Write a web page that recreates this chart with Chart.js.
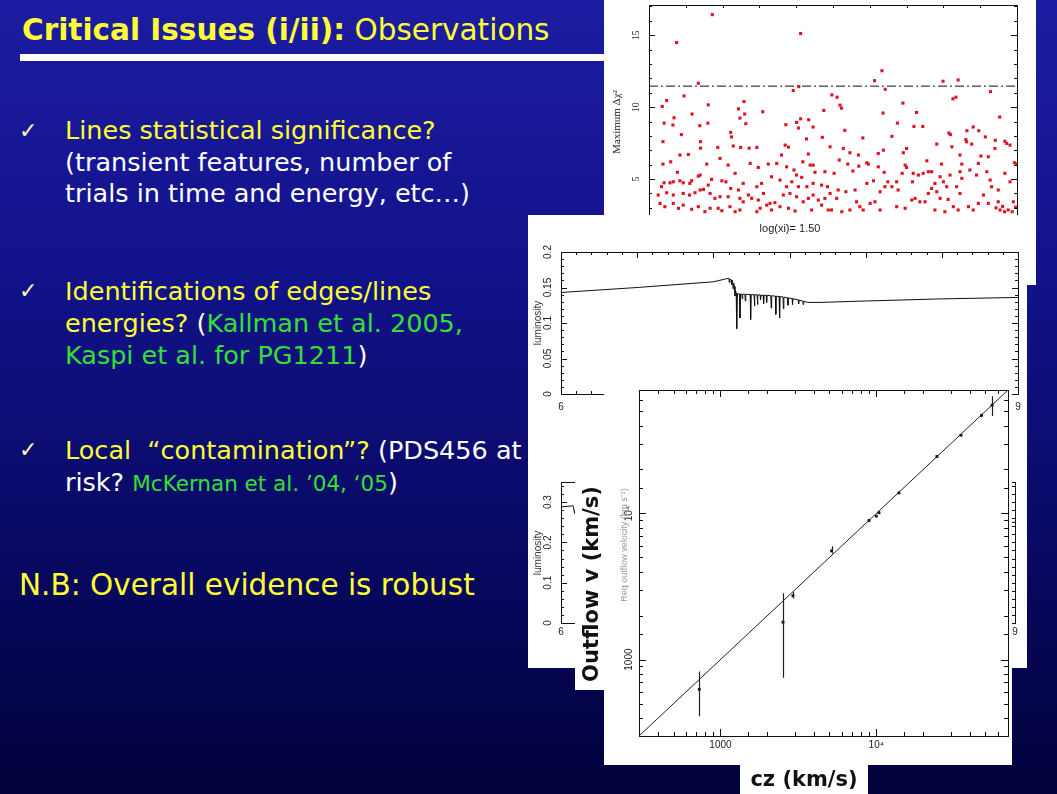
<!DOCTYPE html>
<html>
<head>
<meta charset="utf-8">
<script src="https://cdn.jsdelivr.net/npm/chart.js@4/dist/chart.umd.min.js"></script>
<style>
html, body { margin: 0; padding: 0; }
body {
  width: 1057px; height: 794px; overflow: hidden; position: relative;
  background: linear-gradient(to bottom, #1c1ca2 0%, #12128a 35%, #080862 70%, #02023c 100%);
  font-family: "DejaVu Sans", sans-serif;
}
.t { position: absolute; white-space: nowrap; }
.y { color: #ffff33; }
.w { color: #ffffff; }
.g { color: #33e033; }
.ck { position: absolute; left: 19px; color: #ffffbb; font-family: "DejaVu Sans"; font-size: 22px; }
.panel { position: absolute; background: #fff; }
.panel canvas { position: absolute; left: 0; }
.rot { position: absolute; white-space: nowrap; transform: translate(-50%, -50%) rotate(-90deg); }
.lbl { position: absolute; white-space: nowrap; transform: translate(-50%, -50%); }
</style>
</head>
<body>

<div class="t y" style="left:22px;top:13px;font-size:29.5px;line-height:34px;"><b>Critical Issues (i/ii):</b> Observations</div>
<div style="position:absolute;left:20px;top:54px;width:584px;height:7px;background:#fff;"></div>

<div class="ck" style="top:118px;">✓</div>
<div class="t" style="left:65px;top:115px;font-size:25.5px;line-height:31.5px;">
  <span class="y">Lines statistical significance?</span><br>
  <span class="w">(transient features, number of</span><br>
  <span class="w">trials in time and energy, etc…)</span>
</div>

<div class="ck" style="top:278px;">✓</div>
<div class="t" style="left:65px;top:275px;font-size:25.5px;line-height:32px;">
  <span class="y">Identifications of edges/lines</span><br>
  <span class="y">energies?</span> <span class="w">(</span><span class="g">Kallman et al. 2005,</span><br>
  <span class="g">Kaspi et al. for PG1211</span><span class="w">)</span>
</div>

<div class="ck" style="top:437px;">✓</div>
<div class="t" style="left:65px;top:434px;font-size:25.5px;line-height:32px;">
  <span class="y">Local&nbsp; “contamination”?</span> <span class="w">(PDS456 at</span><br>
  <span class="w">risk?</span> <span class="g" style="font-size:21.5px;">McKernan et al. ’04, ‘05</span><span class="w">)</span>
</div>

<div class="t y" style="left:19px;top:568px;font-size:29.5px;line-height:34px;">N.B: Overall evidence is robust</div>

<!-- panel A : scatter of trials -->
<div class="panel" style="left:604px;top:0;width:432px;height:285px;">
  <canvas id="scat" width="432" height="285"></canvas>
  <div class="rot" style="left:12px;top:122px;font:11px 'Liberation Serif';color:#222;">Maximum Δχ²</div>
</div>

<!-- panel B : model spectra -->
<div class="panel" style="left:528px;top:215px;width:499px;height:453px;">
  <canvas id="specTop" width="499" height="200" style="top:0;"></canvas>
  <canvas id="specBot" width="499" height="253" style="top:200px;"></canvas>
  <div class="lbl" style="left:262px;top:13px;font:11px 'Liberation Sans';color:#222;">log(xi)= 1.50</div>
  <div class="rot" style="left:9px;top:108px;font:10px 'Liberation Sans';color:#333;">luminosity</div>
  <div class="rot" style="left:9px;top:338px;font:10px 'Liberation Sans';color:#333;">luminosity</div>
</div>

<!-- panel C : outflow velocity vs cz -->
<div class="panel" style="left:604px;top:385px;width:408px;height:380px;">
  <canvas id="vel" width="408" height="380"></canvas>
  <div class="rot" style="left:19px;top:160px;font:9px 'Liberation Sans';color:#999;">Req outflow velocity (km s⁻¹)</div>
</div>

<div class="panel" style="left:575px;top:478px;width:31px;height:212px;">
  <div class="rot" style="left:16px;top:106px;font:bold 21px 'DejaVu Sans';color:#111;">Outflow v (km/s)</div>
</div>
<div class="panel" style="left:740px;top:765px;width:128px;height:29px;">
  <div class="lbl" style="left:64px;top:14px;font:bold 21px 'DejaVu Sans';color:#111;">cz (km/s)</div>
</div>

<script>
// --- panel A: maximum delta chi2 of the trials
const trialPoints = [
  [17.2,16.43],[7.5,14.49],[41.2,15.12],[63.3,12.53],[61.3,11.84],[79.9,11.80],[84.0,11.89],[13.4,11.66],
  [40.7,11.43],[39.2,11.15],[64.2,11.24],[92.8,11.08],[9.5,10.78],[4.8,10.46],[3.6,10.05],[16.1,10.16],
  [25.8,10.39],[24.3,9.88],[49.7,10.85],[51.1,10.69],[51.9,10.14],[52.3,9.93],[82.6,10.58],[83.4,10.69],
  [69.0,10.28],[72.7,9.63],[63.6,9.59],[30.9,9.68],[47.5,9.77],[26.0,9.52],[24.7,9.24],[11.7,9.52],
  [6.8,9.26],[95.3,9.31],[41.2,9.19],[43.4,9.12],[40.1,8.94],[26.3,8.85],[6.5,8.76],[4.1,8.89],
  [13.8,8.71],[16.0,8.89],[37.2,8.78],[40.6,8.55],[44.6,8.62],[72.0,8.66],[74.4,8.66],[67.5,8.89],
  [88.1,8.62],[89.6,8.36],[86.4,8.36],[53.2,8.39],[22.2,8.25],[8.8,8.09],[22.4,7.93],[81.9,8.09],
  [81.5,8.2],[66.0,7.97],[58.1,7.86],[42.8,7.79],[47.1,7.90],[91.4,7.93],[86.1,7.74],[94.1,7.70],[96.7,7.63],
  [3.8,7.6],[14,7.6],[14,7.15],[18.7,7.2],[22.9,7.3],[24.9,7.2],[27.2,7.15],[29.3,7.2],[37,7.36],[37.9,7.22],
  [8.4,6.67],[10.7,6.71],[3.8,6.04],[5.9,6.2],[15.7,6.04],[19.3,6.44],[21.5,5.97],[27.5,6.09],[29.7,5.81],
  [32.4,6.04],[34.7,6.09],[36,6.67],[37.4,5.85],[39.4,5.63],[41.8,6.2],[43.3,6.74],[43.8,5.97],[44.6,5.97],
  [45.1,5.47],[47.8,5.51],[7.7,5.47],[13.9,5.28],[13.4,5.2],[4.1,4.74],[5.7,4.74],[6.6,4.81],[3.4,4.47],
  [8.4,4.88],[9.3,4.74],[11.6,4.88],[11.1,4.7],[17,4.98],[16.1,4.58],[19.8,4.88],[20.9,4.81],[23.4,5.4],
  [22.2,4.35],[24.3,4.24],[25.6,4.7],[27,3.89],[29.3,4.47],[30.6,4.7],[33.3,5.16],[35.6,4.93],[37.4,4.47],
  [38.8,4.81],[40.1,5.28],[41.5,5.12],[40.6,4.47],[42.9,4.47],[44.6,4.7],[46.9,4.58],[48.5,4.47],[2.5,3.89],
  [4.8,4.05],[6.6,3.89],[9.3,4.0],[11,3.89],[12.5,4.05],[13.9,4.24],[14.8,4.28],[16.6,4.0],[17.9,3.66],
  [19.3,3.77],[21.5,3.77],[24.7,3.66],[25.6,3.42],[27.9,3.66],[29.7,3.54],[31.1,4.0],[32.9,3.31],[34.2,3.36],
  [36.5,3.89],[38.3,4.0],[40.1,3.77],[41.9,3.42],[43.3,3.66],[44.6,3.89],[46,3.54],[46.9,3.19],[47.8,3.66],
  [3,3.31],[4.3,3.08],[6.6,3.31],[8,2.97],[9.3,3.19],[11.6,2.9],[13.4,3.08],[15.2,2.73],[16.6,2.97],
  [18.8,2.97],[19.8,2.8],[22,3.08],[23.4,2.73],[24.7,2.85],[29.3,2.73],[30.2,2.97],[32,3.19],[33.3,2.85],
  [35.6,3.08],[37.9,2.97],[39.7,2.78],[44.2,2.85],[48.7,2.85],
  [49.2,7.24],[51.7,6.32],[50.3,5.4],[52.8,7.13],[54.6,6.83],[56.9,6.67],[54,6.04],[57,5.9],[55.4,5.56],
  [59.2,6.13],[59.6,6.04],[62.3,6.78],[63.7,7.01],[62.3,5.85],[63.9,5.47],[61,4.88],[59.2,4.7],[64.9,4.81],
  [64.1,4.47],[62.8,4.12],[66,4.47],[67.3,4.81],[67.7,4.24],[68.8,5.4],[69.6,5.97],[70,5.81],[69.1,6.83],
  [70,7.13],[71.8,5.4],[71.6,4.81],[73.2,5.28],[74.5,5.4],[75.5,6.27],[75.9,5.51],[76.8,5.51],[78.2,7.43],
  [79.5,6.04],[79.1,5.16],[77.7,4.7],[80,4.81],[76.8,4.35],[75.9,4.0],[78.2,4.12],[80.9,4.47],[79.1,3.66],
  [81.8,5.28],[82.3,7.24],[84.5,6.67],[85,6.04],[84.5,5.51],[85,5.05],[83.6,4.47],[84.5,4.0],[86.3,7.59],
  [87.7,7.43],[87.2,5.63],[89,5.28],[89.5,6.09],[90.2,6.6],[92.2,6.55],[91.8,5.51],[92.7,4.93],[94,7.13],
  [93.1,4.47],[94.9,4.24],[97.2,7.48],[98.1,7.36],[99.3,6.13],[99.9,6.04],[96.7,5.4],[98.1,4.81],[49.2,4.0],
  [51.4,4.24],[51,3.66],[53.5,4.12],[56,4.24],[56.4,3.42],[57.3,3.08],[58.2,2.85],[54.6,2.85],[52.4,2.73],
  [49.6,2.85],[61.4,3.42],[60.1,3.31],[62.8,2.85],[67.3,3.08],[69.6,2.97],[71.4,3.54],[72.3,3.66],[73.6,3.42],
  [75,3.42],[77.7,2.85],[80.4,2.73],[81.3,3.59],[82.7,3.08],[84,2.85],[86.8,3.08],[88.1,2.85],[89.5,3.31],
  [90.9,3.89],[92.2,3.31],[94.9,3.42],[99,3.42],[94.3,3.0],[95.4,2.85],[96.6,2.73],[97.6,2.85],[98.7,2.73],
  [99.6,3.05],[96.1,3.1]
];
const thresholdLevel = 11.46;
const scatYLabels = [5, 10, 15];

// --- panel B: model spectra (energy in keV)
// continuum knots, then absorption lines as [energy, depth] pairs
const specTopE = [6.0, 6.5, 7.0, 7.08, 7.10, 7.115, 7.125, 7.135, 7.15, 7.16, 7.25, 7.35, 7.45, 7.55, 7.62, 7.70, 8.0, 8.5, 9.0];
const specTopL = [0.143, 0.150, 0.158, 0.162, 0.163, 0.161, 0.160, 0.155, 0.142, 0.141, 0.140, 0.139, 0.137, 0.133, 0.129, 0.129, 0.131, 0.134, 0.136];
const linesTop = [
  [7.105, 0.157], [7.12, 0.154], [7.13, 0.148], [7.142, 0.138], [7.155, 0.092], [7.175, 0.107], [7.19, 0.134],
  [7.21, 0.131], [7.245, 0.105], [7.27, 0.124], [7.29, 0.126], [7.31, 0.133], [7.33, 0.127], [7.35, 0.129],
  [7.38, 0.121], [7.41, 0.112], [7.435, 0.107], [7.46, 0.120], [7.49, 0.125], [7.52, 0.126], [7.56, 0.127], [7.59, 0.126]
];
const specBotE = [6.0, 6.08, 6.09, 6.1, 6.2, 7.0, 7.1, 7.15, 7.6, 8.0, 9.0];
const specBotL = [0.288, 0.291, 0.272, 0.293, 0.295, 0.310, 0.300, 0.240, 0.235, 0.240, 0.250];
const specXLabels = [6, 7, 8, 9];
const specTopYLabels = [0, 0.05, 0.1, 0.15, 0.2];
const specBotYLabels = [0, 0.1, 0.2, 0.3];

// --- panel C: outflow velocity against cz
const czValues = [731, 2518, 2917, 5160, 8975, 10000, 10400, 13960, 24490, 34940, 47340, 55350];
const vOut     = [626, 1803, 2737, 5546, 8954, 9594, 10120, 13840, 24530, 34300, 46890, 55080];
const vLow     = [409, 752, 2624, 5320, 8800, 9450, 9980, 13650, 24250, 33900, 46400, 46450];
const vHigh    = [829, 2845, 2912, 5970, 9100, 9740, 10260, 14030, 24800, 34700, 47400, 63500];
const velRange = [300, 70000];
const velLabels = [[1000, '1000'], [10000, '10⁴']];

// continuum interpolated only to place the narrow line shoulders
function contAt(e) {
  for (let i = 1; i < specTopE.length; i++) {
    if (e <= specTopE[i]) {
      const f = (e - specTopE[i - 1]) / (specTopE[i] - specTopE[i - 1]);
      return specTopL[i - 1] + f * (specTopL[i] - specTopL[i - 1]);
    }
  }
  return specTopL[specTopL.length - 1];
}
const topSpectrum = specTopE.map((e, i) => ({ x: e, y: specTopL[i] }));
linesTop.forEach(([e, d]) => {
  topSpectrum.push({ x: e - 0.003, y: contAt(e - 0.003) }, { x: e, y: d }, { x: e + 0.003, y: contAt(e + 0.003) });
});
topSpectrum.sort((a, b) => a.x - b.x);

// axes without chart.js drawing; the frame plugin draws ticks inward
function axis(type, min, max, extra) {
  return Object.assign({
    type: type, min: min, max: max,
    grid: { display: false }, border: { display: false },
    ticks: { display: false, includeBounds: false },
    afterFit(s) { if (s.isHorizontal()) s.height = 0; else s.width = 0; }
  }, extra || {});
}

function makeFrame(cfg) {
  return {
    id: 'frame',
    afterDraw(chart) {
      const ctx = chart.ctx, a = chart.chartArea, xs = chart.scales.x, ys = chart.scales.y;
      ctx.save();
      ctx.strokeStyle = '#111';
      ctx.lineWidth = 1;
      ctx.strokeRect(Math.round(a.left) + 0.5, Math.round(a.top) + 0.5, Math.round(a.right - a.left), Math.round(a.bottom - a.top));
      ctx.beginPath();
      xs.ticks.forEach(t => {
        const p = Math.round(xs.getPixelForValue(t.value)) + 0.5;
        if (p <= a.left + 1 || p >= a.right - 1) return;
        const len = cfg.xMajor(t.value) ? cfg.major : cfg.minor;
        ctx.moveTo(p, a.bottom); ctx.lineTo(p, a.bottom - len);
        ctx.moveTo(p, a.top); ctx.lineTo(p, a.top + len);
      });
      ys.ticks.forEach(t => {
        const p = Math.round(ys.getPixelForValue(t.value)) + 0.5;
        if (p <= a.top + 1 || p >= a.bottom - 1) return;
        const len = cfg.yMajor(t.value) ? cfg.major : cfg.minor;
        ctx.moveTo(a.left, p); ctx.lineTo(a.left + len, p);
        ctx.moveTo(a.right, p); ctx.lineTo(a.right - len, p);
      });
      ctx.stroke();
      ctx.fillStyle = '#222';
      ctx.font = cfg.font;
      ctx.textAlign = 'center';
      ctx.textBaseline = 'middle';
      (cfg.xLabels || []).forEach(([v, s]) => ctx.fillText(s, xs.getPixelForValue(v), a.bottom + cfg.xGap));
      (cfg.yLabels || []).forEach(([v, s]) => {
        ctx.save();
        ctx.translate(a.left - cfg.yGap, ys.getPixelForValue(v));
        ctx.rotate(-Math.PI / 2);
        ctx.fillText(s, 0, 0);
        ctx.restore();
      });
      ctx.restore();
    }
  };
}

const near = (v, step) => Math.abs(v / step - Math.round(v / step)) < 1e-6;
const base = { responsive: false, animation: false, plugins: { legend: { display: false }, tooltip: { enabled: false } } };

// panel A
new Chart(document.getElementById('scat'), {
  type: 'scatter',
  data: { datasets: [
    { data: trialPoints.map(p => ({ x: p[0], y: p[1] })), pointStyle: 'rect', pointRadius: 2.2, borderWidth: 0,
      backgroundColor: '#dd1420' },
    { data: [{ x: 0, y: thresholdLevel }, { x: 100, y: thresholdLevel }], showLine: true, pointRadius: 0,
      borderColor: '#111', borderWidth: 1, borderDash: [9, 3, 2, 3] }
  ] },
  options: Object.assign({}, base, {
    layout: { padding: { left: 45, right: 19, top: 5, bottom: 34 } },
    scales: {
      x: axis('linear', 0, 100, { ticks: { display: false, stepSize: 10, includeBounds: false } }),
      y: axis('linear', 0, 17.1, { ticks: { display: false, stepSize: 1, includeBounds: false } })
    }
  }),
  plugins: [makeFrame({ major: 6, minor: 3, xMajor: () => false, yMajor: v => near(v, 5),
    font: "10px 'Liberation Serif'", yGap: 13, xGap: 12,
    yLabels: scatYLabels.map(v => [v, String(v)]) })]
});

// panel B, upper spectrum
new Chart(document.getElementById('specTop'), {
  type: 'scatter',
  data: { datasets: [{ data: topSpectrum, showLine: true, pointRadius: 0, borderColor: '#111', borderWidth: 1 }] },
  options: Object.assign({}, base, {
    layout: { padding: { left: 33, right: 9, top: 37, bottom: 21 } },
    scales: {
      x: axis('linear', 6, 9, { ticks: { display: false, stepSize: 0.1, includeBounds: false } }),
      y: axis('linear', 0, 0.2, { ticks: { display: false, stepSize: 0.01, includeBounds: false } })
    }
  }),
  plugins: [makeFrame({ major: 6, minor: 3, xMajor: v => near(v, 0.5), yMajor: v => near(v, 0.05),
    font: "10px 'Liberation Sans'", yGap: 13, xGap: 13,
    xLabels: specXLabels.map(v => [v, String(v)]), yLabels: specTopYLabels.map(v => [v, String(v)]) })]
});

// panel B, lower spectrum
new Chart(document.getElementById('specBot'), {
  type: 'scatter',
  data: { datasets: [{ data: specBotE.map((e, i) => ({ x: e, y: specBotL[i] })), showLine: true, pointRadius: 0,
    borderColor: '#111', borderWidth: 1 }] },
  options: Object.assign({}, base, {
    layout: { padding: { left: 33, right: 12, top: 67, bottom: 45 } },
    scales: {
      x: axis('linear', 6, 9, { ticks: { display: false, stepSize: 0.1, includeBounds: false } }),
      y: axis('linear', 0, 0.35, { ticks: { display: false, stepSize: 0.02, includeBounds: false } })
    }
  }),
  plugins: [makeFrame({ major: 6, minor: 3, xMajor: v => near(v, 0.5), yMajor: v => near(v, 0.1),
    font: "10px 'Liberation Sans'", yGap: 13, xGap: 9,
    xLabels: specXLabels.map(v => [v, String(v)]), yLabels: specBotYLabels.map(v => [v, String(v)]) })]
});

// panel C, error bars drawn through the scales
const errorBars = {
  id: 'errorBars',
  afterDatasetsDraw(chart) {
    const ctx = chart.ctx, xs = chart.scales.x, ys = chart.scales.y;
    ctx.save();
    ctx.strokeStyle = '#222';
    ctx.lineWidth = 1.2;
    ctx.beginPath();
    czValues.forEach((c, i) => {
      const px = Math.round(xs.getPixelForValue(c)) + 0.5;
      ctx.moveTo(px, ys.getPixelForValue(vLow[i]));
      ctx.lineTo(px, ys.getPixelForValue(vHigh[i]));
    });
    ctx.stroke();
    ctx.restore();
  }
};

new Chart(document.getElementById('vel'), {
  type: 'scatter',
  data: { datasets: [
    { data: czValues.map((c, i) => ({ x: c, y: vOut[i] })), pointStyle: 'rect', pointRadius: 2, borderWidth: 0,
      backgroundColor: '#111' },
    { data: [{ x: velRange[0], y: velRange[0] }, { x: velRange[1], y: velRange[1] }], showLine: true, pointRadius: 0,
      borderColor: '#222', borderWidth: 1 }
  ] },
  options: Object.assign({}, base, {
    layout: { padding: { left: 35, right: 1, top: 5, bottom: 29 } },
    scales: {
      x: axis('logarithmic', velRange[0], velRange[1]),
      y: axis('logarithmic', velRange[0], velRange[1])
    }
  }),
  plugins: [errorBars, makeFrame({ major: 7, minor: 4,
    xMajor: v => near(Math.log10(v), 1), yMajor: v => near(Math.log10(v), 1),
    font: "10px 'Liberation Sans'", yGap: 10, xGap: 9,
    xLabels: velLabels, yLabels: velLabels })]
});
</script>
</body>
</html>
